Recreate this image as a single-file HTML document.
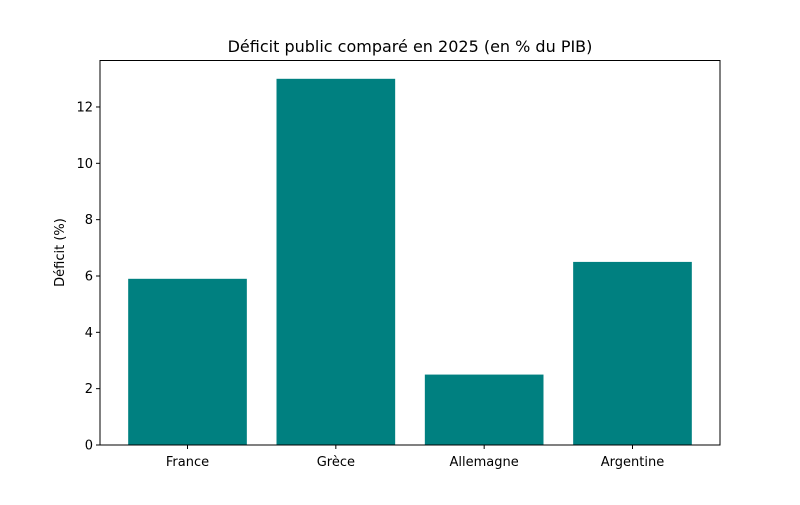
<!DOCTYPE html>
<html><head><meta charset="utf-8"><style>
body{margin:0;background:#fff;}
svg text{font-family:"DejaVu Sans","Liberation Sans",sans-serif;fill:#000;}
</style></head><body>
<svg id="chart" width="800" height="500">
<rect width="800" height="500" fill="#fff"/>
<text x="410" y="52" font-size="16" text-anchor="middle">Déficit public comparé en 2025 (en % du PIB)</text>
<text transform="translate(64,252.5) rotate(-90)" font-size="13" text-anchor="middle">Déficit (%)</text>
<g id="bars"></g><g id="axes"></g>
<rect x="100" y="60.5" width="620" height="384.5" fill="none" stroke="#000" stroke-width="1"/>
</svg>
<script>
const categories=["France","Grèce","Allemagne","Argentine"];
const values=[5.9,13,2.5,6.5];
const yTicks=[0,2,4,6,8,10,12];
const L=100,R=720,T=60.5,B=445;
const ymax=Math.max(...values)*1.05;
const xmin=-0.59,xmax=categories.length-1+0.59;
const xs=i=>L+(i-xmin)/(xmax-xmin)*(R-L);
const ys=v=>B-v/ymax*(B-T);
const NS="http://www.w3.org/2000/svg";
const bars=document.getElementById('bars'),axes=document.getElementById('axes');
function mk(tag,attrs,parent){const e=document.createElementNS(NS,tag);for(const k in attrs)e.setAttribute(k,attrs[k]);parent.appendChild(e);return e;}
const bw=(xs(0.4)-xs(-0.4));
categories.forEach((c,i)=>{
  const r=mk('rect',{x:xs(i)-bw/2,y:ys(values[i]),width:bw,height:B-ys(values[i]),fill:'#008080'},bars);
  
  
  mk('line',{x1:xs(i),x2:xs(i),y1:B,y2:B+4,stroke:'#000'},axes);
  const t=mk('text',{x:xs(i),y:B+21,'font-size':13,'text-anchor':'middle'},axes);
  t.textContent=c;
  
  
});
yTicks.forEach(v=>{
  const y=ys(v);
  mk('line',{x1:L-4,x2:L,y1:y,y2:y,stroke:'#000'},axes);
  const t=mk('text',{x:L-7,y:y+4.5,'font-size':13,'text-anchor':'end'},axes);
  t.textContent=v;
  
  
});
</script>
</body></html>
